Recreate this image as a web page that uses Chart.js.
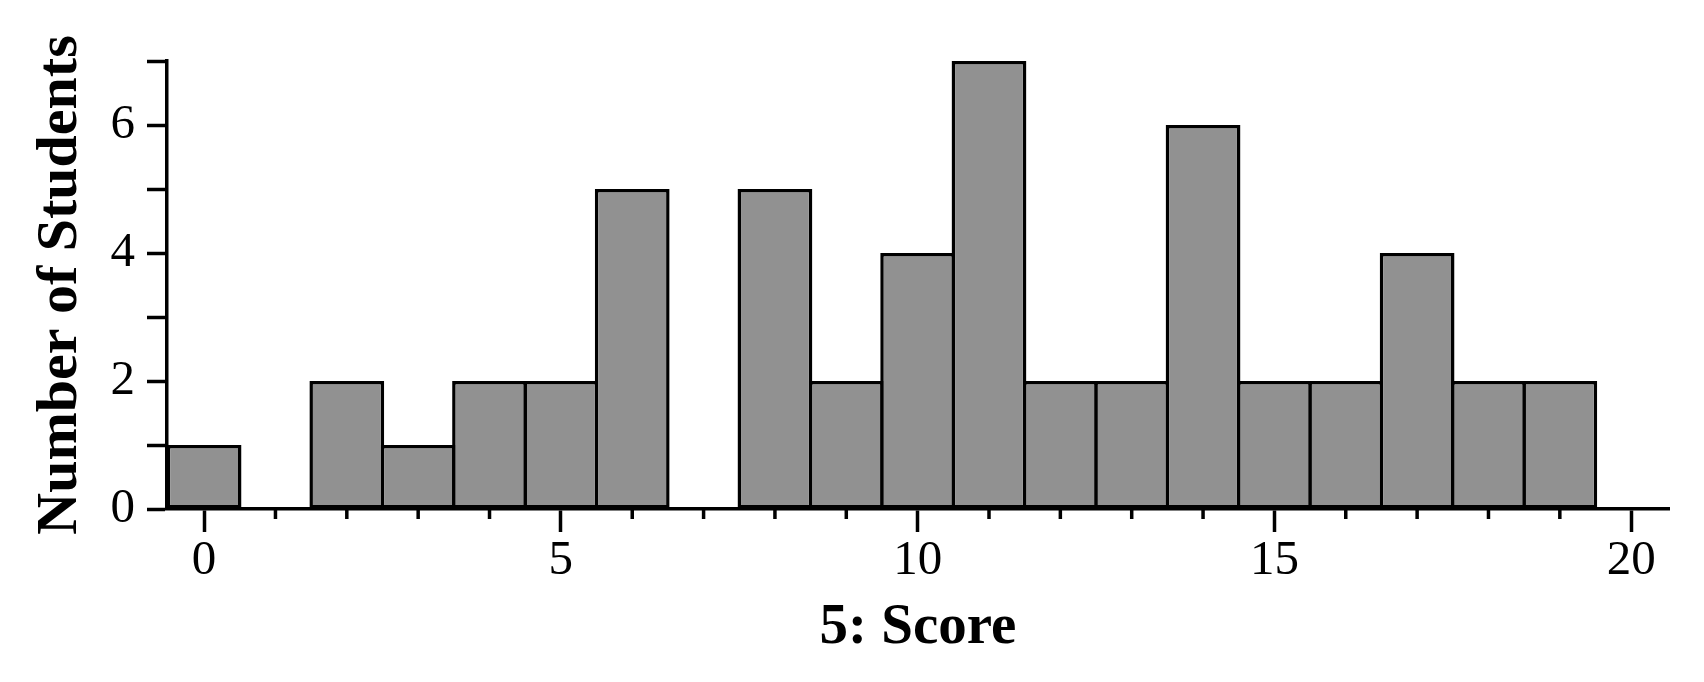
<!DOCTYPE html>
<html>
<head>
<meta charset="utf-8">
<title>5: Score</title>
<script src="https://cdn.jsdelivr.net/npm/chart.js@4/dist/chart.umd.min.js"></script>
<style>
  html, body { margin: 0; padding: 0; background: #fff; }
  #scoreChart { display: block; }
</style>
</head>
<body>
<canvas id="scoreChart" width="1704" height="682"></canvas>
<script>
/* global Chart */

// Histogram data.
const scores = [0, 1, 2, 3, 4, 5, 6, 7, 8, 9, 10, 11, 12, 13, 14, 15, 16, 17, 18, 19];
const counts = [1, 0, 2, 1, 2, 2, 5, 0, 5, 2, 4, 7, 2, 2, 6, 2, 2, 4, 2, 2];
const xTickLabels = [0, 5, 10, 15, 20];
const yTickLabels = [0, 2, 4, 6];
const xTitle = "5: Score";
const yTitle = "Number of Students";

const SERIF = "'Liberation Serif', 'Times New Roman', serif";

function $(sel) {
  return document.querySelector(sel);
}

function isMajorX(v) {
  return xTickLabels.includes(v);
}

// Small ticks on the x axis at every integer that has no label.
const minorTicks = {
  id: "minorTicks",
  afterDraw(chart) {
    const x = chart.scales.x;
    const ctx = chart.ctx;
    const y0 = x.top;
    ctx.save();
    ctx.strokeStyle = "#000";
    ctx.lineWidth = 3.5;
    x.ticks.forEach(t => {
      if (isMajorX(t.value)) return;
      const px = x.getPixelForValue(t.value);
      ctx.beginPath();
      ctx.moveTo(px, y0);
      ctx.lineTo(px, y0 + 10);
      ctx.stroke();
    });
    ctx.restore();
  }
};

function buildChart() {
  const points = scores.map((s, i) => ({ x: s, y: counts[i] }));

  return new Chart($("#scoreChart"), {
    type: "bar",
    data: {
      datasets: [
        {
          data: points,
          backgroundColor: "#919191",
          borderColor: "#000",
          borderWidth: 3.5,
          borderSkipped: false,
          categoryPercentage: 1,
          barPercentage: 1.048
        }
      ]
    },
    plugins: [minorTicks],
    options: {
      responsive: false,
      animation: false,
      layout: {
        padding: { top: 61, right: 35, left: 0, bottom: 0 }
      },
      plugins: {
        legend: { display: false },
        tooltip: { enabled: false }
      },
      scales: {
        x: {
          type: "linear",
          min: -0.52,
          max: 20.53,
          offset: false,
          afterFit: (s) => { s.height = 173; },
          border: { display: true, color: "#000", width: 3.5 },
          grid: {
            offset: false,
            drawOnChartArea: false,
            tickLength: 23,
            tickWidth: 3.5,
            tickColor: (c) => (c.tick && isMajorX(c.tick.value)) ? "#000" : "rgba(0,0,0,0)"
          },
          ticks: {
            stepSize: 1,
            includeBounds: false,
            autoSkip: false,
            maxRotation: 0,
            padding: 0,
            color: "#000",
            font: { family: SERIF, size: 49 },
            callback: (v) => isMajorX(v) ? String(v) : ""
          },
          title: {
            display: true,
            text: xTitle,
            color: "#000",
            font: { family: SERIF, size: 57, weight: "bold" },
            padding: { top: 0, bottom: 20 }
          }
        },
        y: {
          min: 0,
          max: 7,
          afterFit: (s) => { s.width = 167; },
          border: { display: true, color: "#000", width: 3.5 },
          grid: {
            drawOnChartArea: false,
            tickLength: 20,
            tickWidth: 3.5,
            tickColor: "#000"
          },
          ticks: {
            stepSize: 1,
            padding: 12,
            color: "#000",
            font: { family: SERIF, size: 49 },
            callback: (v) => yTickLabels.includes(v) ? String(v) : ""
          },
          title: {
            display: true,
            text: yTitle,
            color: "#000",
            font: { family: SERIF, size: 58, weight: "bold" },
            padding: { top: 26, bottom: 0 }
          }
        }
      }
    }
  });
}

document.addEventListener("DOMContentLoaded", buildChart);
</script>
</body>
</html>
